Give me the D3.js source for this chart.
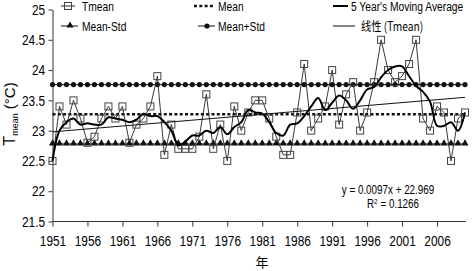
<!DOCTYPE html>
<html>
<head>
<meta charset="utf-8">
<script src="https://cdn.jsdelivr.net/npm/d3@7"></script>
<style>
  body { margin: 0; background: #fff; }
  text { font-family: "Liberation Sans", Arial, sans-serif; fill: #000; }
</style>
</head>
<body>
<svg id="chart"></svg>
<script>
//size of the page and of the plot area
const width = 472;
const height = 271;
const plot = { left: 52.5, right: 465, top: 9.5, bottom: 221.5 };

//categories
const years = [1951, 1952, 1953, 1954, 1955, 1956, 1957, 1958, 1959, 1960,
    1961, 1962, 1963, 1964, 1965, 1966, 1967, 1968, 1969, 1970,
    1971, 1972, 1973, 1974, 1975, 1976, 1977, 1978, 1979, 1980,
    1981, 1982, 1983, 1984, 1985, 1986, 1987, 1988, 1989, 1990,
    1991, 1992, 1993, 1994, 1995, 1996, 1997, 1998, 1999, 2000,
    2001, 2002, 2003, 2004, 2005, 2006, 2007, 2008, 2009, 2010];

//yearly mean temperature
const tmean = [22.5, 23.4, 23.1, 23.5, 23.2, 22.8, 22.9, 23.2, 23.4, 23.2,
    23.4, 22.8, 23.1, 23.2, 23.4, 23.9, 22.6, 23.1, 22.7, 22.7,
    22.7, 22.9, 23.6, 22.7, 23.1, 22.5, 23.4, 23.0, 23.3, 23.5,
    23.5, 23.2, 22.9, 22.6, 22.6, 23.3, 24.1, 23.0, 23.2, 23.4,
    24.0, 23.1, 23.6, 23.8, 23.0, 23.3, 23.8, 24.5, 24.0, 23.8,
    23.9, 24.1, 24.5, 23.2, 23.0, 23.4, 23.3, 22.5, 23.2, 23.3];

//5 year moving average (thick line)
const movingAvg = [22.5, 23.0, 23.14, 23.2, 23.1, 23.12, 23.1, 23.1, 23.22, 23.2,
    23.18, 23.14, 23.18, 23.28, 23.24, 23.24, 23.14, 23.0, 22.76, 22.82,
    22.92, 22.92, 23.0, 22.96, 23.06, 22.94, 23.06, 23.14, 23.34, 23.3,
    23.28, 23.14, 22.96, 22.92, 23.1, 23.12, 23.24, 23.4, 23.54, 23.34,
    23.46, 23.58, 23.5, 23.36, 23.5, 23.68, 23.72, 23.88, 24.0, 24.06,
    24.06, 23.9, 23.74, 23.64, 23.48, 23.08, 23.08, 23.14, 23.0, 23.3];

//horizontal reference levels
const meanLevel = [23.27];
const lowLevel = [22.78];   // Mean-Std
const highLevel = [23.76];  // Mean+Std

//linear trend, value at first and last year
const trendEnds = [22.98, 23.55];

//ticks
const xTickYears = [1951, 1956, 1961, 1966, 1971, 1976, 1981, 1986, 1991, 1996, 2001, 2006];
const yTicks = [21.5, 22, 22.5, 23, 23.5, 24, 24.5, 25];

const squeeze = 0.82; // the text in the picture is narrow

const svg = d3.select('svg#chart').attr('width', width).attr('height', height);

const x = d3.scalePoint().domain(years).range([plot.left, plot.right]);
const y = d3.scaleLinear().domain([21.5, 25]).range([plot.bottom, plot.top]);

function label(g, px, py, str, size, anchor) {
    return g.append('text')
        .attr('transform', `translate(${px},${py}) scale(${squeeze},1)`)
        .attr('font-size', size)
        .attr('text-anchor', anchor || 'start')
        .text(str);
}

//axes
svg.append('g')
    .attr('transform', `translate(${plot.left},0)`)
    .call(d3.axisLeft(y).tickValues(yTicks).tickFormat(d3.format('')).tickSize(4).tickSizeOuter(0).tickPadding(5))
    .call(g => g.select('.domain').attr('stroke', '#333'))
    .call(g => g.selectAll('line').attr('stroke', '#333'))
    .call(g => g.selectAll('text').attr('transform', `scale(${squeeze},1)`).attr('font-size', 14.5)
        .attr('font-family', '"Liberation Sans", Arial, sans-serif').attr('fill', '#000'));

svg.append('g')
    .attr('transform', `translate(0,${plot.bottom})`)
    .call(d3.axisBottom(x).tickValues(xTickYears).tickSize(5).tickSizeOuter(0).tickPadding(9))
    .call(g => g.select('.domain').attr('stroke', '#333').attr('d', `M${plot.left},0H${plot.right + 1}`))
    .call(g => g.selectAll('line').attr('stroke', '#333'))
    .call(g => g.selectAll('text').attr('transform', `scale(${squeeze},1)`).attr('font-size', 14.5)
        .attr('font-family', '"Liberation Sans", Arial, sans-serif').attr('fill', '#000'));

//y title
const yTitle = svg.append('text')
    .attr('transform', `translate(15,114) rotate(-90)`)
    .attr('text-anchor', 'middle')
    .attr('font-size', 15);
yTitle.append('tspan').attr('font-size', 16).text('T');
yTitle.append('tspan').attr('font-size', 9).attr('dy', 3).text('mean');
yTitle.append('tspan').attr('dy', -3).text(' (°C)');

//x title
svg.append('text')
    .attr('x', 262).attr('y', 267)
    .attr('text-anchor', 'middle')
    .attr('font-size', 13)
    .style('font-family', '"Noto Sans CJK SC", sans-serif')
    .text('年');

//reference levels: Mean (dots), Mean-Std (triangles), Mean+Std (circles)
const lineGen = d3.line().x(d => x(d[0])).y(d => y(d[1]));
const flat = v => years.map(yr => [yr, v]);

svg.append('path')
    .attr('d', lineGen(flat(meanLevel[0])))
    .attr('fill', 'none').attr('stroke', '#111')
    .attr('stroke-width', 2.6).attr('stroke-dasharray', '3,2.3');

svg.append('path')
    .attr('d', lineGen(flat(lowLevel[0])))
    .attr('fill', 'none').attr('stroke', '#111').attr('stroke-width', 1);
svg.selectAll('path.tri')
    .data(years).enter().append('path')
    .attr('class', 'tri')
    .attr('d', d3.symbol(d3.symbolTriangle, 22)())
    .attr('transform', d => `translate(${x(d)},${y(lowLevel[0]) - 0.5})`)
    .attr('fill', '#111');

svg.append('path')
    .attr('d', lineGen(flat(highLevel[0])))
    .attr('fill', 'none').attr('stroke', '#111').attr('stroke-width', 1);
svg.selectAll('circle.hi')
    .data(years).enter().append('circle')
    .attr('class', 'hi')
    .attr('cx', d => x(d)).attr('cy', y(highLevel[0]))
    .attr('r', 2.6).attr('fill', '#111');

//Tmean line with open squares
const tData = years.map((yr, i) => [yr, tmean[i]]);
svg.append('path')
    .attr('d', lineGen(tData))
    .attr('fill', 'none').attr('stroke', '#222').attr('stroke-width', 0.9);
svg.selectAll('rect.sq')
    .data(tData).enter().append('rect')
    .attr('class', 'sq')
    .attr('x', d => x(d[0]) - 3.5).attr('y', d => y(d[1]) - 3.5)
    .attr('width', 7).attr('height', 7)
    .attr('fill', 'none').attr('stroke', '#444').attr('stroke-width', 1);

//5 year moving average
svg.append('path')
    .attr('d', d3.line().x(d => x(d[0])).y(d => y(d[1])).curve(d3.curveCatmullRom.alpha(0.5))(years.map((yr, i) => [yr, movingAvg[i]])))
    .attr('fill', 'none').attr('stroke', '#000').attr('stroke-width', 2);

//linear trend
svg.append('line')
    .attr('x1', x(years[0])).attr('y1', y(trendEnds[0]))
    .attr('x2', x(years[years.length - 1])).attr('y2', y(trendEnds[1]))
    .attr('stroke', '#111').attr('stroke-width', 1);

//trend equation
label(svg, 388, 194, 'y = 0.0097x + 22.969', 12, 'middle');
const r2 = svg.append('text')
    .attr('transform', `translate(393,208) scale(${squeeze},1)`)
    .attr('font-size', 12).attr('text-anchor', 'middle');
r2.append('tspan').text('R');
r2.append('tspan').attr('font-size', 8).attr('dy', -4).text('2');
r2.append('tspan').attr('dy', 4).text(' = 0.1266');

//legend
const legend = svg.append('g');
// Tmean
legend.append('line').attr('x1', 61).attr('x2', 75).attr('y1', 6).attr('y2', 6).attr('stroke', '#222');
legend.append('rect').attr('x', 64.5).attr('y', 2.5).attr('width', 7).attr('height', 7)
    .attr('fill', 'none').attr('stroke', '#444');
label(legend, 82, 10.5, 'Tmean', 12.5);
// Mean-Std
legend.append('line').attr('x1', 61).attr('x2', 78).attr('y1', 26).attr('y2', 26).attr('stroke', '#111');
legend.append('path').attr('d', d3.symbol(d3.symbolTriangle, 22)()).attr('transform', 'translate(70,25.5)').attr('fill', '#111');
label(legend, 82, 31, 'Mean-Std', 12.5);
// Mean
legend.append('line').attr('x1', 194).attr('x2', 215).attr('y1', 6).attr('y2', 6)
    .attr('stroke', '#111').attr('stroke-width', 2.6).attr('stroke-dasharray', '3,2.3');
label(legend, 218, 10.5, 'Mean', 12.5);
// Mean+Std
legend.append('line').attr('x1', 198).attr('x2', 215).attr('y1', 26).attr('y2', 26).attr('stroke', '#111');
legend.append('circle').attr('cx', 207).attr('cy', 26).attr('r', 2.6).attr('fill', '#111');
label(legend, 218, 31, 'Mean+Std', 12.5);
// moving average
legend.append('line').attr('x1', 333).attr('x2', 348).attr('y1', 6).attr('y2', 6)
    .attr('stroke', '#000').attr('stroke-width', 2);
label(legend, 351, 10.5, "5 Year's Moving Average", 12.5);
// trend
legend.append('line').attr('x1', 333).attr('x2', 355).attr('y1', 26).attr('y2', 26)
    .attr('stroke', '#111').attr('stroke-width', 1);
label(legend, 361, 31, '线性 (Tmean)', 12.5).style('font-family', '"Noto Sans CJK SC", "Liberation Sans", sans-serif');
</script>
</body>
</html>
